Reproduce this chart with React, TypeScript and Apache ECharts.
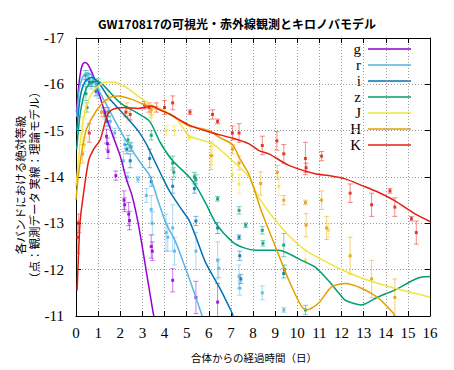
import React, { useEffect, useRef } from "react";
import * as echarts from "echarts";

const bandNames = ["g", "r", "i", "z", "J", "H", "K"];
const bandColors = ["#9400d3", "#56b4e9", "#0072b2", "#009e73", "#f0e442", "#e69f00", "#e51e10"];

// Model curves: [days, absolute magnitude]
const gModel = [[0.02,-15.4],[0.1,-15.85],[0.2,-16.25],[0.3,-16.43],[0.42,-16.47],[0.55,-16.42],[0.75,-16.22],[1.0,-15.86],[1.4,-15.25],[1.75,-14.78],[2.0,-14.45],[2.28,-13.95],[2.52,-13.62],[2.75,-13.15],[2.97,-12.57],[3.2,-11.9],[3.49,-11.06],[3.52,-11.0]];
const rModel = [[0.03,-15.3],[0.15,-15.9],[0.3,-16.15],[0.5,-16.25],[0.7,-16.2],[1.0,-15.9],[1.5,-15.45],[2.0,-15.0],[2.5,-14.6],[3.0,-14.25],[3.33,-14.03],[3.7,-13.5],[4.07,-13.0],[4.5,-12.6],[4.82,-12.2],[5.2,-11.7],[5.57,-11.19],[5.7,-11.0]];
const iModel = [[0.03,-15.0],[0.2,-15.75],[0.4,-16.05],[0.7,-16.15],[1.0,-16.05],[1.5,-15.7],[2.28,-15.29],[2.8,-15.0],[3.17,-14.72],[3.5,-14.4],[3.9,-14.0],[4.22,-13.7],[4.7,-13.35],[5.12,-13.06],[5.5,-12.6],[5.87,-12.14],[6.5,-11.6],[7.06,-11.06],[7.1,-11.0]];
const zModel = [[0.03,-14.6],[0.2,-15.4],[0.45,-15.9],[0.7,-16.05],[1.0,-16.06],[1.3,-15.95],[2.0,-15.6],[2.7,-15.4],[3.33,-15.2],[3.8,-14.75],[4.37,-14.35],[5.12,-14.0],[5.5,-13.75],[5.95,-13.35],[6.32,-13.0],[7.07,-12.6],[7.6,-12.47],[8.12,-12.42],[9.17,-12.42],[9.6,-12.35],[10.2,-12.2],[10.8,-12.06],[11.4,-11.77],[11.87,-11.5],[12.17,-11.34],[12.9,-11.24],[13.6,-11.4],[14.4,-11.56],[15.46,-11.82],[16,-11.85]];
const jModel = [[0.0,-13.8],[0.1,-14.3],[0.2,-14.8],[0.4,-15.4],[0.7,-15.8],[1.1,-16.0],[1.5,-16.05],[1.8,-16.04],[2.28,-15.93],[2.88,-15.72],[3.4,-15.55],[3.8,-15.48],[4.5,-15.28],[4.82,-15.07],[5.12,-14.88],[6.16,-14.72],[7.07,-14.35],[7.82,-14.0],[8.27,-13.55],[9.32,-12.89],[10.37,-12.42],[11.42,-12.14],[11.87,-12.03],[12.9,-11.82],[14.4,-11.6],[15.9,-11.42],[16,-11.4]];
const hModel = [[0.0,-13.5],[0.1,-14.0],[0.27,-14.57],[0.45,-15.0],[0.64,-15.2],[1.02,-15.5],[1.32,-15.65],[1.6,-15.73],[1.92,-15.75],[2.5,-15.68],[3.0,-15.58],[3.6,-15.48],[4.22,-15.36],[4.82,-15.18],[5.12,-15.1],[6.02,-15.0],[6.5,-14.85],[7.07,-14.7],[7.4,-14.4],[7.82,-14.05],[8.42,-13.21],[9.02,-12.49],[9.62,-11.77],[10.2,-11.2],[10.43,-11.13],[10.97,-11.28],[11.55,-11.63],[12.17,-11.7],[12.9,-11.6],[13.66,-11.39],[14.34,-11.06],[14.4,-11.0]];
const kModel = [[0.05,-11.55],[0.12,-12.4],[0.19,-13.06],[0.34,-13.64],[0.57,-14.35],[0.8,-14.6],[1.09,-14.8],[1.39,-15.3],[1.62,-15.45],[2.2,-15.5],[2.82,-15.48],[3.42,-15.53],[3.8,-15.45],[4.22,-15.36],[5.12,-15.12],[6.1,-14.96],[7.07,-14.84],[7.8,-14.72],[8.27,-14.57],[8.72,-14.5],[9.62,-14.25],[10.8,-14.07],[11.42,-14.03],[12.17,-13.96],[12.9,-13.82],[13.66,-13.67],[14.4,-13.49],[15.3,-13.21],[16,-13.04]];

// Observations: [days, magnitude, error]
const gObs = [[1.38,-14.88,0.15],[1.42,-14.72,0.12],[1.45,-14.55,0.15],[1.8,-14.03,0.1],[2.17,-13.5,0.2],[2.2,-13.4,0.15],[2.38,-13.2,0.25],[2.42,-13.06,0.2],[3.4,-12.5,0.25],[3.45,-12.4,0.2],[4.37,-11.77,0.25],[5.42,-11.4,0.35],[6.4,-11.3,0.4]];
const rObs = [[0.45,-16.1,0.1],[0.55,-16.2,0.1],[0.68,-16.0,0.1],[1.0,-15.8,0.1],[1.3,-15.35,0.1],[1.55,-15.2,0.12],[1.75,-14.95,0.1],[2.14,-14.35,0.2],[2.2,-14.7,0.1],[2.34,-14.0,0.1],[2.5,-14.65,0.08],[2.8,-13.95,0.06],[3.18,-13.6,0.15],[3.4,-13.3,0.3],[3.45,-13.0,0.25],[4.07,-12.8,0.4],[4.15,-12.7,0.3],[4.37,-12.9,0.5],[4.45,-12.4,0.3],[5.42,-12.4,0.4],[6.4,-12.2,0.4],[6.45,-12.03,0.2],[7.37,-11.85,0.25],[7.4,-11.6,0.15],[8.42,-11.5,0.15],[9.39,-11.13,0.05]];
const iObs = [[0.6,-16.05,0.1],[0.9,-15.85,0.1],[1.4,-15.2,0.1],[2.3,-14.6,0.1],[2.45,-14.35,0.15],[3.33,-14.4,0.2],[3.4,-13.9,0.1],[4.37,-13.8,0.15],[5.35,-13.75,0.1],[5.42,-13.05,0.1],[6.4,-12.9,0.12],[7.37,-12.7,0.05],[7.4,-12.3,0.1],[7.45,-11.8,0.1],[9.39,-11.92,0.1]];
const zObs = [[0.42,-16.2,0.1],[0.45,-15.8,0.15],[0.5,-15.5,0.1],[0.75,-16.05,0.1],[1.0,-16.0,0.12],[1.45,-15.4,0.1],[2.35,-14.8,0.1],[2.45,-14.65,0.1],[3.4,-14.9,0.1],[4.37,-14.3,0.15],[4.42,-14.1,0.1],[5.35,-14.0,0.1],[5.42,-13.95,0.1],[6.4,-13.53,0.05],[7.37,-13.28,0.08],[7.67,-12.96,0.05],[8.42,-12.85,0.08],[8.45,-12.57,0.06],[9.39,-12.53,0.25],[9.42,-12.0,0.1],[10.37,-11.13,0.1]];
const jObs = [[0.3,-15.0,0.3],[0.38,-14.7,0.15],[0.42,-15.4,0.15],[1.45,-15.75,0.1],[2.3,-15.3,0.1],[3.4,-15.3,0.1],[4.07,-15.0,0.1],[4.45,-15.0,0.1],[5.12,-14.85,0.05],[6.16,-14.46,0.2],[7.07,-14.05,0.15],[7.37,-13.85,0.2],[9.17,-13.8,0.2],[10.37,-12.2,0.2],[11.42,-12.85,0.15]];
const hObs = [[0.3,-14.5,0.2],[1.15,-15.4,0.1],[2.3,-15.5,0.1],[3.4,-15.45,0.1],[6.1,-14.46,0.3],[7.07,-14.6,0.1],[7.37,-14.3,0.15],[8.35,-13.86,0.25],[9.1,-14.1,0.15],[9.39,-13.5,0.1],[10.37,-13.45,0.05],[10.4,-12.96,0.25],[11.1,-13.5,0.2],[11.33,-12.9,0.25],[12.39,-12.3,0.4],[13.36,-11.8,0.4],[14.41,-11.4,0.4]];
const kObs = [[0.08,-12.7,0.35],[0.12,-13.0,0.2],[0.6,-14.95,0.2],[1.3,-15.4,0.1],[2.25,-15.4,0.1],[2.45,-15.35,0.12],[3.1,-15.55,0.08],[3.3,-15.5,0.1],[3.63,-15.5,0.1],[4.0,-15.5,0.15],[4.37,-15.6,0.15],[5.15,-15.4,0.05],[6.17,-15.35,0.1],[6.4,-15.2,0.05],[7.07,-14.95,0.15],[7.37,-14.95,0.2],[8.42,-14.68,0.2],[9.08,-14.78,0.2],[9.39,-14.5,0.2],[10.37,-14.4,0.35],[10.4,-14.2,0.1],[11.1,-14.45,0.1],[12.39,-13.65,0.2],[13.36,-13.4,0.25],[14.19,-13.7,0.05],[14.41,-13.35,0.2],[15.16,-13.1,0.05],[15.38,-12.8,0.25]];

const xTicks = { min: 0, max: 16, step: 1 };
const yTicks = { min: -17, max: -11, step: 1 };

const models = [gModel, rModel, iModel, zModel, jModel, hModel, kModel];
const observations = [gObs, rObs, iObs, zObs, jObs, hObs, kObs];

const titleText = "GW170817の可視光・赤外線観測とキロノバモデル";
const xName = "合体からの経過時間（日）";
const yName1 = "各バンドにおける絶対等級";
const yName2 = "（点：観測データ 実線：理論モデル）";

function errRenderer(color: string) {
  return (params: any, api: any) => {
    const t = api.value(0);
    const m = api.value(1);
    const e = api.value(2);
    const p = api.coord([t, m]);
    const lo = api.coord([t, m - e]);
    const hi = api.coord([t, m + e]);
    const cap = 2.5;
    const s = { stroke: color, lineWidth: 1, opacity: 0.5 };
    return {
      type: "group",
      children: [
        { type: "line", shape: { x1: p[0], y1: lo[1], x2: p[0], y2: hi[1] }, style: s },
        { type: "line", shape: { x1: p[0] - cap, y1: lo[1], x2: p[0] + cap, y2: lo[1] }, style: s },
        { type: "line", shape: { x1: p[0] - cap, y1: hi[1], x2: p[0] + cap, y2: hi[1] }, style: s },
        { type: "rect", shape: { x: p[0] - 1.5, y: p[1] - 1.5, width: 3, height: 3 }, style: { fill: color, opacity: 0.85 } },
      ],
    };
  };
}

export default function App() {
  const ref = useRef<HTMLDivElement>(null);
  useEffect(() => {
    if (!ref.current) return;
    const chart = echarts.init(ref.current, null, { renderer: "svg" });
    const serif = "'Liberation Serif', 'DejaVu Serif', serif";
    const cjk = "'Noto Sans CJK JP', 'Noto Sans', sans-serif";
    const axisLine = { show: true, onZero: false, lineStyle: { color: "#000", width: 1 } };
    const tick = { show: true, inside: true, length: 5, lineStyle: { color: "#000" } };
    const split = { show: true, lineStyle: { color: "#9a9a9a", type: [1, 2], width: 1 } };

    const series: any[] = [];
    observations.forEach((obs, i) => {
      series.push({
        type: "custom",
        name: bandNames[i] + "obs",
        renderItem: errRenderer(bandColors[i]),
        data: obs,
        encode: { x: 0, y: 1 },
        clip: true,
        z: 2,
      });
    });
    models.forEach((mdl, i) => {
      series.push({
        type: "line",
        name: bandNames[i],
        data: mdl,
        smooth: 0.25,
        showSymbol: false,
        clip: true,
        lineStyle: { color: bandColors[i], width: 1.5 },
        z: 3,
      });
    });

    const graphics: any[] = [
      {
        type: "text",
        x: 237,
        y: 23,
        style: { text: titleText, font: `bold 12px ${cjk}`, fill: "#000", align: "center", verticalAlign: "middle" },
      },
      {
        type: "text",
        x: 254,
        y: 357,
        style: { text: xName, font: `10.5px ${cjk}`, fill: "#000", align: "center", verticalAlign: "middle" },
      },
      {
        type: "text",
        x: 27,
        y: 185,
        rotation: Math.PI / 2,
        style: { text: yName1 + "\n" + yName2, font: `11.5px ${cjk}`, lineHeight: 14, fill: "#000", align: "center", verticalAlign: "middle" },
      },
    ];
    bandNames.forEach((b, i) => {
      const y = 49 + i * 16;
      graphics.push({
        type: "text",
        x: 361,
        y,
        style: { text: b, font: `15px ${serif}`, fill: "#000", align: "right", verticalAlign: "middle" },
      });
      graphics.push({
        type: "line",
        shape: { x1: 368, y1: y, x2: 411, y2: y },
        style: { stroke: bandColors[i], lineWidth: 1.5 },
      });
    });

    chart.setOption({
      animation: false,
      backgroundColor: "#fff",
      grid: { left: 76, right: 24, top: 38, bottom: 54, containLabel: false, outerBoundsMode: "none" },
      xAxis: [
        {
          type: "value", min: xTicks.min, max: xTicks.max, interval: xTicks.step, position: "bottom",
          axisLine, axisTick: tick, splitLine: split,
          axisLabel: { color: "#000", fontFamily: serif, fontSize: 15, margin: 9 },
        },
        {
          type: "value", min: xTicks.min, max: xTicks.max, interval: xTicks.step, position: "top",
          axisLine, axisTick: tick, splitLine: { show: false }, axisLabel: { show: false },
        },
      ],
      yAxis: [
        {
          type: "value", min: yTicks.min, max: yTicks.max, interval: yTicks.step, inverse: true, position: "left",
          axisLine, axisTick: tick, splitLine: split,
          axisLabel: { color: "#000", fontFamily: serif, fontSize: 15, margin: 12 },
        },
        {
          type: "value", min: yTicks.min, max: yTicks.max, interval: yTicks.step, inverse: true, position: "right",
          axisLine, axisTick: tick, splitLine: { show: false }, axisLabel: { show: false },
        },
      ],
      series,
      graphic: graphics,
    });
    return () => chart.dispose();
  }, []);
  return <div ref={ref} style={{ position: "fixed", left: 0, top: 0, width: 454, height: 370 }} />;
}
